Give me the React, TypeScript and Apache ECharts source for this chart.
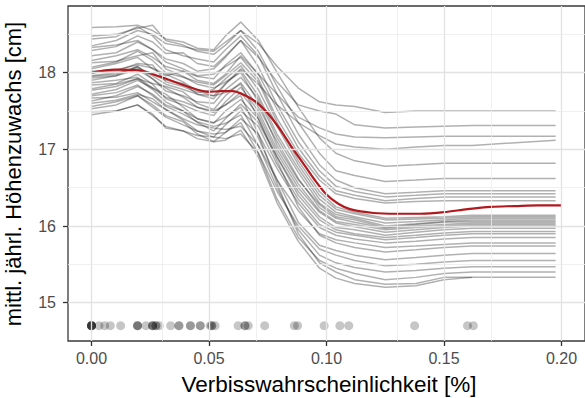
import React, { useEffect, useRef } from "react";
import * as echarts from "echarts";

// Grid positions (x values) at which each ICE curve was evaluated
const X_KNOTS = [0, 0.0105, 0.0196, 0.026, 0.0316, 0.039, 0.045, 0.052, 0.057, 0.0635, 0.071, 0.079, 0.088, 0.097, 0.104, 0.112, 0.125, 0.138, 0.15, 0.162, 0.1975];

// Individual conditional expectation curves (mittl. jährl. Höhenzuwachs, cm)
const ICE_01 = [18.35, 18.42, 18.55, 18.50, 18.38, 18.34, 18.30, 18.28, 18.40, 18.55, 18.38, 18.08, 17.80, 17.62, 17.58, 17.56, 17.48, 17.50, 17.50, 17.50, 17.50];
const ICE_02 = [18.22, 18.26, 18.40, 18.30, 18.18, 18.12, 18.02, 18.05, 18.20, 18.42, 18.20, 17.88, 17.58, 17.50, 17.46, 17.32, 17.28, 17.29, 17.30, 17.31, 17.31];
const ICE_03 = [18.05, 18.12, 18.20, 18.05, 17.96, 18.02, 17.90, 17.86, 17.98, 18.22, 17.98, 17.72, 17.42, 17.28, 17.20, 17.16, 17.15, 17.16, 17.17, 17.17, 17.17];
const ICE_04 = [17.95, 17.98, 18.08, 17.96, 17.85, 17.78, 17.72, 17.70, 17.86, 18.05, 17.85, 17.58, 17.35, 17.18, 17.07, 17.03, 17.00, 17.03, 17.05, 17.05, 17.12];
const ICE_05 = [18.59, 18.60, 18.62, 18.55, 18.44, 18.40, 18.32, 18.30, 18.48, 18.66, 18.42, 18.00, 17.55, 17.15, 16.95, 16.85, 16.78, 16.80, 16.82, 16.82, 16.82];
const ICE_06 = [18.48, 18.50, 18.58, 18.62, 18.42, 18.36, 18.28, 18.24, 18.36, 18.55, 18.28, 17.82, 17.35, 16.95, 16.72, 16.66, 16.58, 16.60, 16.62, 16.62, 16.62];
const ICE_07 = [18.44, 18.47, 18.60, 18.48, 18.30, 18.22, 18.18, 18.14, 18.30, 18.48, 18.22, 17.72, 17.20, 16.80, 16.60, 16.50, 16.42, 16.44, 16.46, 16.46, 16.46];
const ICE_08 = [18.29, 18.34, 18.48, 18.40, 18.25, 18.26, 18.12, 18.08, 18.22, 18.42, 18.08, 17.58, 17.10, 16.72, 16.52, 16.45, 16.38, 16.40, 16.42, 16.42, 16.42];
const ICE_09 = [18.16, 18.22, 18.30, 18.20, 18.08, 18.02, 17.95, 17.92, 18.10, 18.26, 17.98, 17.52, 17.02, 16.65, 16.46, 16.40, 16.33, 16.36, 16.38, 16.38, 16.38];
const ICE_10 = [18.33, 18.36, 18.42, 18.30, 18.14, 18.05, 17.96, 17.98, 18.08, 18.20, 17.92, 17.40, 16.95, 16.60, 16.42, 16.36, 16.30, 16.32, 16.33, 16.33, 16.33];
const ICE_11 = [18.07, 18.14, 18.28, 18.16, 18.00, 17.94, 17.88, 17.84, 17.96, 18.13, 17.88, 17.35, 16.85, 16.45, 16.25, 16.18, 16.10, 16.11, 16.12, 16.14, 16.14];
const ICE_12 = [18.00, 18.02, 18.12, 18.10, 17.88, 17.82, 17.74, 17.78, 17.92, 18.09, 17.78, 17.30, 16.80, 16.40, 16.22, 16.16, 16.08, 16.09, 16.10, 16.12, 16.12];
const ICE_13 = [17.96, 18.00, 18.06, 17.98, 17.90, 17.86, 17.72, 17.66, 17.85, 18.03, 17.70, 17.20, 16.75, 16.35, 16.18, 16.12, 16.04, 16.06, 16.08, 16.10, 16.10];
const ICE_14 = [17.90, 17.96, 18.08, 17.92, 17.76, 17.70, 17.62, 17.60, 17.78, 17.94, 17.66, 17.15, 16.70, 16.30, 16.15, 16.10, 16.00, 16.03, 16.06, 16.08, 16.08];
const ICE_15 = [18.13, 18.15, 18.22, 18.26, 18.05, 17.95, 17.85, 17.80, 17.88, 18.00, 17.62, 17.05, 16.60, 16.28, 16.12, 16.08, 15.98, 16.02, 16.05, 16.06, 16.06];
const ICE_16 = [17.79, 17.85, 17.92, 17.86, 17.82, 17.75, 17.60, 17.52, 17.70, 17.87, 17.55, 17.10, 16.62, 16.24, 16.10, 16.05, 15.97, 16.00, 16.02, 16.04, 16.04];
const ICE_17 = [17.84, 17.86, 17.98, 17.85, 17.66, 17.58, 17.50, 17.44, 17.62, 17.81, 17.50, 17.00, 16.55, 16.20, 16.06, 16.02, 15.95, 15.98, 16.00, 16.02, 16.02];
const ICE_18 = [17.72, 17.78, 17.90, 17.80, 17.68, 17.62, 17.55, 17.48, 17.58, 17.74, 17.45, 16.95, 16.50, 16.18, 16.04, 15.99, 15.92, 15.95, 15.98, 16.00, 16.00];
const ICE_19 = [17.87, 17.90, 17.94, 17.80, 17.72, 17.55, 17.40, 17.34, 17.50, 17.65, 17.40, 16.90, 16.45, 16.12, 15.98, 15.95, 15.88, 15.92, 15.95, 15.97, 15.97];
const ICE_20 = [17.63, 17.70, 17.82, 17.72, 17.58, 17.50, 17.35, 17.24, 17.40, 17.59, 17.35, 16.90, 16.40, 16.08, 15.95, 15.90, 15.85, 15.88, 15.91, 15.93, 15.93];
const ICE_21 = [17.67, 17.68, 17.74, 17.62, 17.52, 17.38, 17.24, 17.16, 17.32, 17.50, 17.30, 16.80, 16.35, 16.02, 15.92, 15.88, 15.82, 15.85, 15.88, 15.90, 15.90];
const ICE_22 = [17.53, 17.58, 17.70, 17.58, 17.44, 17.36, 17.20, 17.10, 17.22, 17.40, 17.20, 16.75, 16.30, 15.98, 15.88, 15.83, 15.78, 15.80, 15.83, 15.85, 15.85];
const ICE_23 = [17.60, 17.64, 17.72, 17.66, 17.52, 17.40, 17.32, 17.28, 17.26, 17.30, 17.05, 16.60, 16.20, 15.90, 15.82, 15.78, 15.72, 15.74, 15.76, 15.78, 15.78];
const ICE_24 = [18.02, 18.04, 18.10, 18.06, 17.98, 17.88, 17.76, 17.70, 17.74, 17.85, 17.40, 16.85, 16.25, 15.88, 15.78, 15.72, 15.66, 15.69, 15.72, 15.74, 15.74];
const ICE_25 = [17.77, 17.82, 17.92, 17.78, 17.62, 17.50, 17.40, 17.35, 17.42, 17.55, 17.15, 16.60, 16.05, 15.75, 15.68, 15.62, 15.56, 15.59, 15.62, 15.64, 15.64];
const ICE_26 = [17.49, 17.50, 17.58, 17.46, 17.28, 17.24, 17.18, 17.16, 17.14, 17.20, 16.95, 16.45, 16.00, 15.70, 15.62, 15.55, 15.48, 15.50, 15.53, 15.55, 15.55];
const ICE_27 = [17.70, 17.74, 17.84, 17.70, 17.56, 17.46, 17.36, 17.30, 17.34, 17.45, 17.05, 16.50, 15.95, 15.62, 15.52, 15.46, 15.40, 15.42, 15.45, 15.47, 15.47];
const ICE_28 = [17.56, 17.62, 17.70, 17.55, 17.42, 17.32, 17.24, 17.20, 17.22, 17.35, 16.95, 16.35, 15.85, 15.55, 15.45, 15.38, 15.30, 15.33, 15.38, 15.40, 15.40];
const ICE_29 = [17.93, 17.96, 18.04, 17.92, 17.80, 17.68, 17.55, 17.50, 17.58, 17.70, 17.20, 16.55, 15.90, 15.52, 15.40, 15.30, 15.24, 15.25, 15.33, 15.33, 15.33];
const ICE_30 = [17.45, 17.50, 17.58, 17.44, 17.30, 17.24, 17.14, 17.10, 17.12, 17.25, 16.90, 16.30, 15.80, 15.45, 15.32, 15.25, 15.20, 15.22, 15.30, 15.33, null];

const ICE_LINES = [
  ICE_01, ICE_02, ICE_03, ICE_04, ICE_05, ICE_06, ICE_07, ICE_08, ICE_09, ICE_10,
  ICE_11, ICE_12, ICE_13, ICE_14, ICE_15, ICE_16, ICE_17, ICE_18, ICE_19, ICE_20,
  ICE_21, ICE_22, ICE_23, ICE_24, ICE_25, ICE_26, ICE_27, ICE_28, ICE_29, ICE_30,
];

// Smoothed mean (red line)
const MEAN_X = [0, 0.01, 0.02, 0.03, 0.04, 0.05, 0.055, 0.06, 0.065, 0.07, 0.075, 0.08, 0.085, 0.09, 0.095, 0.1, 0.105, 0.11, 0.12, 0.13, 0.14, 0.15, 0.16, 0.17, 0.18, 0.19, 0.2];
const MEAN_Y = [18.0, 18.04, 18.03, 17.94, 17.83, 17.75, 17.76, 17.76, 17.71, 17.62, 17.47, 17.27, 17.04, 16.82, 16.6, 16.41, 16.29, 16.22, 16.17, 16.16, 16.16, 16.18, 16.22, 16.25, 16.26, 16.27, 16.27];

// Observed values (rug points)
const RUG_X = [0, 0, 0, 0, 0, 0, 0.0032, 0.0056, 0.008, 0.0124, 0.0196, 0.0196, 0.0196, 0.0232, 0.026, 0.026, 0.026, 0.0274, 0.0274, 0.0288, 0.0337, 0.0372, 0.0372, 0.0421, 0.0421, 0.0463, 0.0463, 0.0505, 0.0512, 0.0512, 0.0526, 0.0624, 0.0653, 0.0653, 0.0667, 0.0737, 0.0863, 0.0877, 0.099, 0.1057, 0.1095, 0.1375, 0.16, 0.1625];
const RUG_Y = 14.7;

// Axis ticks and grid lines
const X_TICKS = [0, 0.05, 0.1, 0.15, 0.2];
const X_MINOR = [0.025, 0.075, 0.125, 0.175];
const Y_TICKS = [15, 16, 17, 18];
const Y_MINOR = [15.5, 16.5, 17.5, 18.5];

const FONT = "'Liberation Sans', Arial, Helvetica, sans-serif";

export default function App() {
  const ref = useRef<HTMLDivElement>(null);

  useEffect(() => {
    if (!ref.current) return;
    const chart = echarts.init(ref.current, undefined, { renderer: "svg" });

    const gridLines: any[] = [];
    X_TICKS.forEach((v) => gridLines.push({ xAxis: v, lineStyle: { color: "#e2e2e2", width: 1.3 } }));
    X_MINOR.forEach((v) => gridLines.push({ xAxis: v, lineStyle: { color: "#ececec", width: 0.8 } }));
    Y_TICKS.forEach((v) => gridLines.push({ yAxis: v, lineStyle: { color: "#e2e2e2", width: 1.3 } }));
    Y_MINOR.forEach((v) => gridLines.push({ yAxis: v, lineStyle: { color: "#ececec", width: 0.8 } }));

    const series: any[] = [
      {
        type: "line",
        data: [],
        silent: true,
        z: 0,
        markLine: {
          silent: true,
          symbol: ["none", "none"],
          label: { show: false },
          emphasis: { disabled: true },
          lineStyle: { type: "solid" },
          data: gridLines,
        },
      },
      {
        type: "scatter",
        data: RUG_X.map((x) => [x, RUG_Y]),
        symbolSize: 9,
        itemStyle: { color: "rgba(0,0,0,0.28)" },
        silent: true,
        z: 1,
      },
    ];

    ICE_LINES.forEach((line) => {
      series.push({
        type: "line",
        data: X_KNOTS.map((x, i) => [x, line[i]]),
        showSymbol: false,
        symbol: "none",
        connectNulls: false,
        silent: true,
        lineStyle: { color: "#000000", opacity: 0.31, width: 1.5 },
        z: 2,
      });
    });

    series.push({
      type: "line",
      data: MEAN_X.map((x, i) => [x, MEAN_Y[i]]),
      showSymbol: false,
      symbol: "none",
      smooth: 0.3,
      silent: true,
      lineStyle: { color: "#b0191e", width: 2.2 },
      z: 3,
    });

    chart.setOption({
      animation: false,
      backgroundColor: "#ffffff",
      grid: {
        left: 68,
        right: -5,
        top: 6,
        bottom: 57,
        show: true,
        borderColor: "#3a3a3a",
        borderWidth: 1.3,
        backgroundColor: "#ffffff",
      },
      xAxis: {
        type: "value",
        min: -0.01,
        max: 0.21,
        axisLine: { show: false, onZero: false },
        splitLine: { show: false },
        axisTick: {
          show: true,
          customValues: X_TICKS,
          length: 5,
          lineStyle: { color: "#333333", width: 1.3 },
        },
        axisLabel: {
          customValues: X_TICKS,
          formatter: (v: number) => v.toFixed(2),
          color: "#4d4d4d",
          fontSize: 16,
          fontFamily: FONT,
          margin: 9,
        },
      },
      yAxis: {
        type: "value",
        min: 14.5,
        max: 18.87,
        axisLine: { show: false, onZero: false },
        splitLine: { show: false },
        axisTick: {
          show: true,
          customValues: Y_TICKS,
          length: 5,
          lineStyle: { color: "#333333", width: 1.3 },
        },
        axisLabel: {
          customValues: Y_TICKS,
          formatter: (v: number) => String(v),
          color: "#4d4d4d",
          fontSize: 16,
          fontFamily: FONT,
          margin: 12,
        },
      },
      graphic: [
        {
          type: "text",
          x: 329,
          y: 384,
          silent: true,
          style: {
            text: "Verbisswahrscheinlichkeit [%]",
            fill: "#000000",
            fontSize: 22.5,
            fontFamily: FONT,
            align: "center",
            verticalAlign: "middle",
          },
        },
        {
          type: "text",
          x: 13,
          y: 174,
          rotation: Math.PI / 2,
          silent: true,
          style: {
            text: "mittl. jährl. Höhenzuwachs [cm]",
            fill: "#000000",
            fontSize: 22,
            fontFamily: FONT,
            align: "center",
            verticalAlign: "middle",
          },
        },
      ],
      series,
    });

    return () => chart.dispose();
  }, []);

  return (
    <div
      ref={ref}
      style={{ position: "absolute", left: 0, top: 0, width: 585, height: 398, background: "#fff" }}
    />
  );
}
